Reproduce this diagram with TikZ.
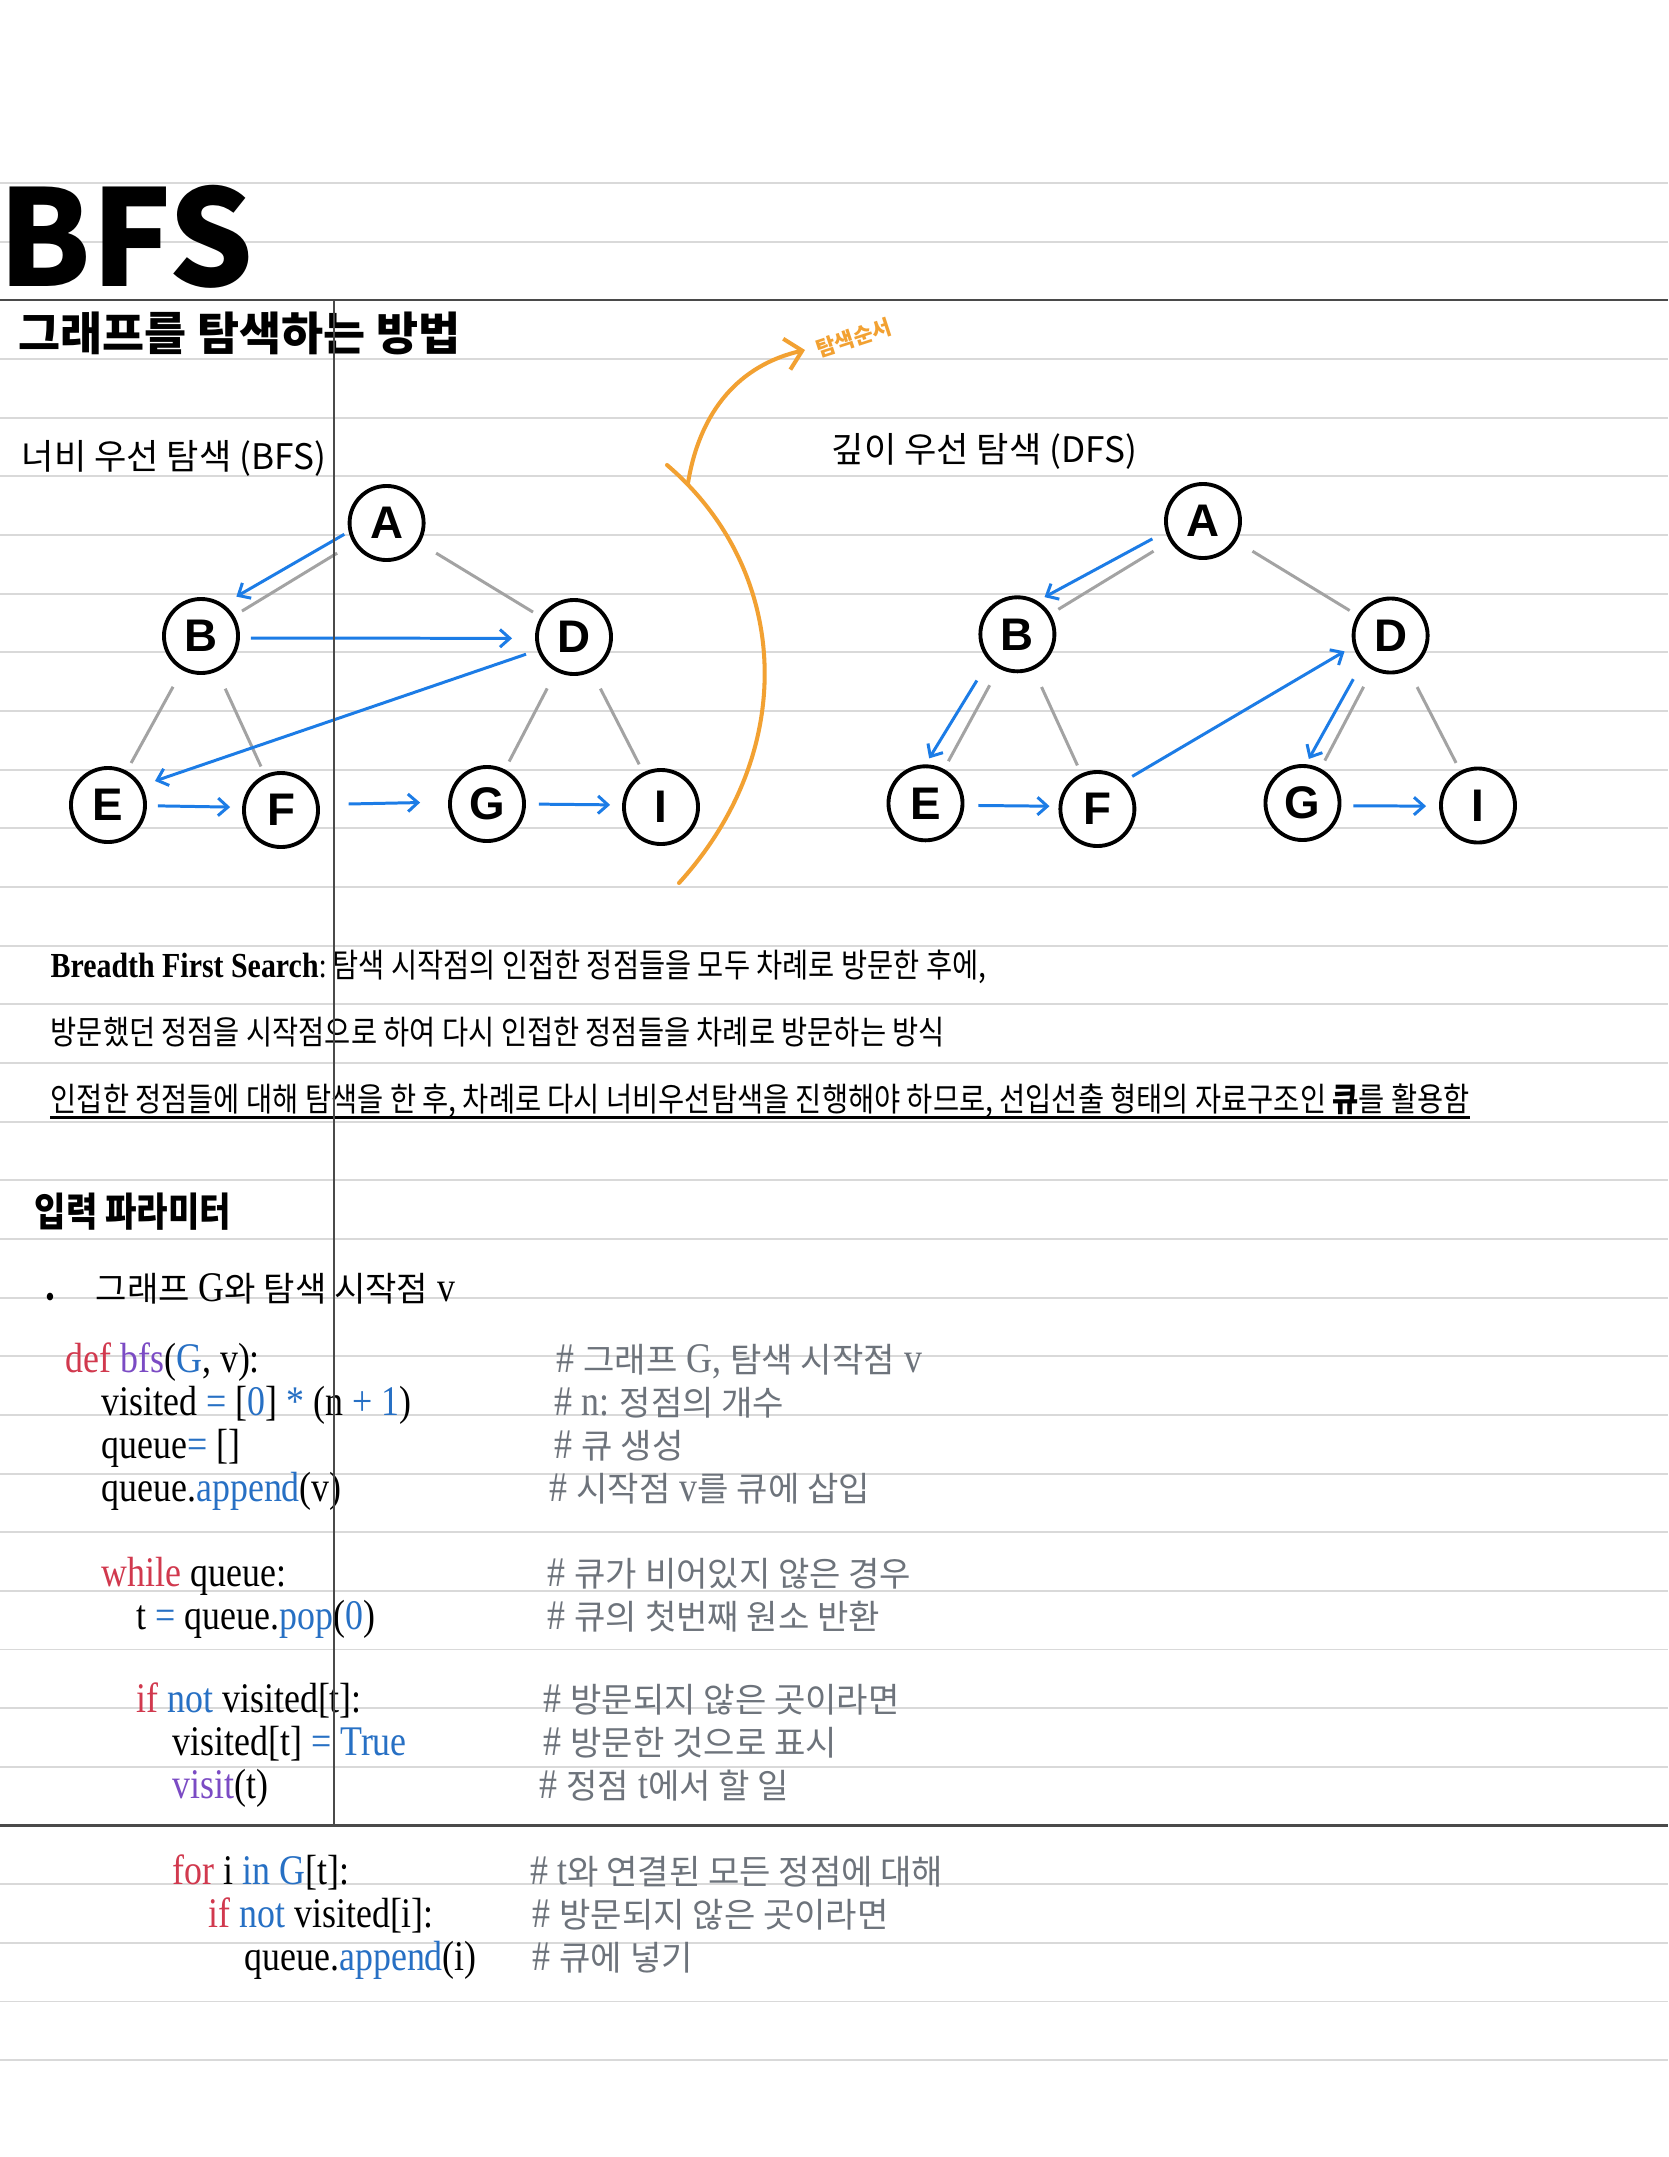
\documentclass[tikz,border=0pt]{standalone}
\usepackage{fontspec}
\setmainfont[FakeStretch=0.85]{Liberation Serif}
\newfontfamily\hgfont{Noto Sans CJK KR}
\newfontfamily\hgn[FakeStretch=0.86]{Noto Sans CJK KR}
\newfontfamily\lsans{Liberation Sans}
\usetikzlibrary{arrows.meta}
\definecolor{rulegray}{HTML}{D9D9D9}
\definecolor{darkline}{HTML}{4A4A4A}
\definecolor{edgegray}{HTML}{A3A3A3}
\definecolor{flowblue}{HTML}{1C7CE6}
\definecolor{ordorange}{HTML}{F2A132}
\definecolor{kwred}{HTML}{D1394E}
\definecolor{fnpurple}{HTML}{7B4BC4}
\definecolor{codeblue}{HTML}{2770C4}
\definecolor{cmtgray}{HTML}{6D737B}
\newcommand{\hg}[1]{{\hgfont\fontsize{9.7pt}{11pt}\selectfont #1}}
\newcommand{\ckw}[1]{\textcolor{kwred}{#1}}
\newcommand{\cfn}[1]{\textcolor{fnpurple}{#1}}
\newcommand{\cbl}[1]{\textcolor{codeblue}{#1}}

\begin{document}
\begin{tikzpicture}[
  x=0.01cm, y=-0.01cm,
  rule/.style={draw=rulegray, line width=0.55pt},
  darkrule/.style={draw=darkline, line width=0.6pt},
  vertex/.style={circle, draw=black, fill=white, line width=1.1pt, minimum size=0.74cm,
                 inner sep=0pt, font=\lsans\bfseries\fontsize{13pt}{13pt}\selectfont},
  link/.style={draw=edgegray, line width=0.85pt, shorten <=0.19cm, shorten >=0.09cm},
  flow/.style={-{Straight Barb[length=2.8pt,width=5pt]}, draw=flowblue, line width=0.85pt},
  orderline/.style={draw=ordorange, line width=1.15pt, line cap=round},
  txt/.style={anchor=base west, inner sep=0pt},
  body/.style={txt, font=\hgn\fontsize{9.4pt}{11pt}\selectfont},
  code/.style={txt, font=\fontsize{12pt}{14pt}\selectfont},
  cmt/.style={code, text=cmtgray},
]
\fill[white] (0,0) rectangle (1668,2157);
\useasboundingbox (0,0) rectangle (1668,2157);
\foreach \k in {0,...,32}
  \draw[rule] (0,{183+58.66*\k}) -- (1668,{183+58.66*\k});
\draw[darkrule] (0,300.3) -- (1668,300.3);
\draw[darkrule] (0,1825.5) -- (1668,1825.5);

\node[txt, font=\hgfont\bfseries\fontsize{38pt}{38pt}\selectfont] (title) at (-2,286) {BFS};
\node[txt, font=\hgfont\bfseries\fontsize{13pt}{15pt}\selectfont] (sub) at (18,350) {그래프를 탐색하는 방법};
\node[txt, font=\hgfont\fontsize{10pt}{12pt}\selectfont] (bfshead) at (21,469) {너비 우선 탐색 (BFS)};
\node[txt, font=\hgfont\fontsize{10pt}{12pt}\selectfont] (dfshead) at (831,462) {깊이 우선 탐색 (DFS)};

\node[vertex] (bA) at (386.6,523) {A};
\node[vertex] (bB) at (201,636) {B};
\node[vertex] (bD) at (574,637) {D};
\node[vertex] (bE) at (108,805) {E};
\node[vertex] (bF) at (281,810) {F};
\node[vertex] (bG) at (487,804) {G};
\node[vertex] (bI) at (661,807) {I};

\draw[link] (bA) -- (bB);
\draw[link] (bA) -- (bD);
\draw[link] (bB) -- (bE);
\draw[link] (bB) -- (bF);
\draw[link] (bD) -- (bG);
\draw[link] (bD) -- (bI);

\draw[flow, shorten <=0.05cm, shorten >=0.15cm] (bA.193) -- (bB.55);
\draw[flow, shorten <=0.11cm, shorten >=0.23cm] (bB.357) -- (bD.182);
\draw[flow, shorten <=0.12cm, shorten >=0.14cm] (bD.200) -- (bE.30);
\draw[flow, shorten <=0.11cm, shorten >=0.12cm] (bE.359) -- (bF.176);
\draw[flow, shorten <=0.29cm, shorten >=0.28cm] (bF.8) -- (bG.177);
\draw[flow, shorten <=0.13cm, shorten >=0.12cm] (bG.0) -- (bI.177);

\node[vertex] (dA) at (1203,521) {A};
\node[vertex] (dB) at (1017.4,634.3) {B};
\node[vertex] (dD) at (1390.6,635.5) {D};
\node[vertex] (dE) at (925.5,803.3) {E};
\node[vertex] (dF) at (1097.4,809) {F};
\node[vertex] (dG) at (1302.5,803) {G};
\node[vertex] (dI) at (1478,805.5) {I};

\draw[link] (dA) -- (dB);
\draw[link] (dA) -- (dD);
\draw[link] (dB) -- (dE);
\draw[link] (dB) -- (dF);
\draw[link] (dD) -- (dG);
\draw[link] (dD) -- (dI);

\draw[flow, shorten <=0.15cm, shorten >=0.08cm] (dA.196) -- (dB.59);
\draw[flow, shorten <=0.23cm, shorten >=0.07cm] (dB.223) -- (dE.90);
\draw[flow, shorten <=0.09cm, shorten >=0.10cm] (dF.46) -- (dD.196);
\draw[flow, shorten <=0.19cm, shorten >=0.06cm] (dD.224) -- (dG.85);
\draw[flow, shorten <=0.14cm, shorten >=0.09cm] (dE.357) -- (dF.176);
\draw[flow, shorten <=0.12cm, shorten >=0.13cm] (dG.356) -- (dI.181);

\draw[orderline] (667,465) .. controls (790,570) and (800,750) .. (679,883);
\draw[orderline, -{Straight Barb[length=4.5pt,width=9pt]}] (688,483) .. controls (700,410) and (740,365) .. (805,350);
\node[rotate=18, inner sep=0pt, text=ordorange, font=\hgfont\bfseries\fontsize{6pt}{7pt}\selectfont] (order) at (854,338) {탐색순서};

\node[body] (p1) at (50,977) {{\rmfamily\bfseries\fontsize{10pt}{12pt}\selectfont Breadth First Search}{\rmfamily\fontsize{10pt}{12pt}\selectfont :}\,탐색 시작점의 인접한 정점들을 모두 차례로 방문한 후에,};
\node[body] (p2) at (50,1044) {방문했던 정점을 시작점으로 하여 다시 인접한 정점들을 차례로 방문하는 방식};
\node[body] (p3) at (50,1111) {인접한 정점들에 대해 탐색을 한 후, 차례로 다시 너비우선탐색을 진행해야 하므로, 선입선출 형태의 자료구조인 {\bfseries 큐}를 활용함};
\draw[line width=0.7pt] ([yshift=-0.065cm]p3.base west) -- ([yshift=-0.065cm]p3.base east);

\node[txt, font=\hgn\bfseries\fontsize{11.3pt}{13pt}\selectfont] (param) at (34,1226) {입력 파라미터};
\node[anchor=base, inner sep=0pt, font=\fontsize{9pt}{9pt}\selectfont] (dot) at (50,1307) {\textbullet};
\node[code] (arg) at (95,1301) {\hg{그래프} G\hg{와 탐색 시작점} v};

\node[code] (c1) at (65,1372) {\ckw{def} \cfn{bfs}(\cbl{G}, v):};
\node[code] (c2) at (101,1415) {visited \cbl{=} [\cbl{0}] \cbl{*} (n \cbl{+ 1})};
\node[code] (c3) at (101,1458) {queue\cbl{=} []};
\node[code] (c4) at (101,1501) {queue.\cbl{append}(v)};
\node[code] (c5) at (101,1586) {\ckw{while} queue:};
\node[code] (c6) at (136,1629) {t \cbl{=} queue.\cbl{pop}(\cbl{0})};
\node[code] (c7) at (136,1712) {\ckw{if} \cbl{not} visited[t]:};
\node[code] (c8) at (172,1755) {visited[t] \cbl{= True}};
\node[code] (c9) at (172,1798) {\cfn{visit}(t)};
\node[code] (c10) at (172,1884) {\ckw{for} i \cbl{in} \cbl{G}[t]:};
\node[code] (c11) at (208,1927) {\ckw{if} \cbl{not} visited[i]:};
\node[code] (c12) at (244,1970) {queue.\cbl{append}(i)};

\node[cmt] (m1) at (556,1372) {\# \hg{그래프} G, \hg{탐색 시작점} v};
\node[cmt] (m2) at (554,1415) {\# n:\hg{ 정점의 개수}};
\node[cmt] (m3) at (554,1458) {\# \hg{큐 생성}};
\node[cmt] (m4) at (549,1501) {\# \hg{시작점} v\hg{를 큐에 삽입}};
\node[cmt] (m5) at (547,1586) {\# \hg{큐가 비어있지 않은 경우}};
\node[cmt] (m6) at (547,1629) {\# \hg{큐의 첫번째 원소 반환}};
\node[cmt] (m7) at (543,1712) {\# \hg{방문되지 않은 곳이라면}};
\node[cmt] (m8) at (543,1755) {\# \hg{방문한 것으로 표시}};
\node[cmt] (m9) at (539,1798) {\# \hg{정점} t\hg{에서 할 일}};
\node[cmt] (m10) at (530,1884) {\# t\hg{와 연결된 모든 정점에 대해}};
\node[cmt] (m11) at (532,1927) {\# \hg{방문되지 않은 곳이라면}};
\node[cmt] (m12) at (532,1970) {\# \hg{큐에 넣기}};

\draw[darkrule, line width=0.45pt] (334,300.3) -- (334,1825.5);
\end{tikzpicture}
\end{document}
